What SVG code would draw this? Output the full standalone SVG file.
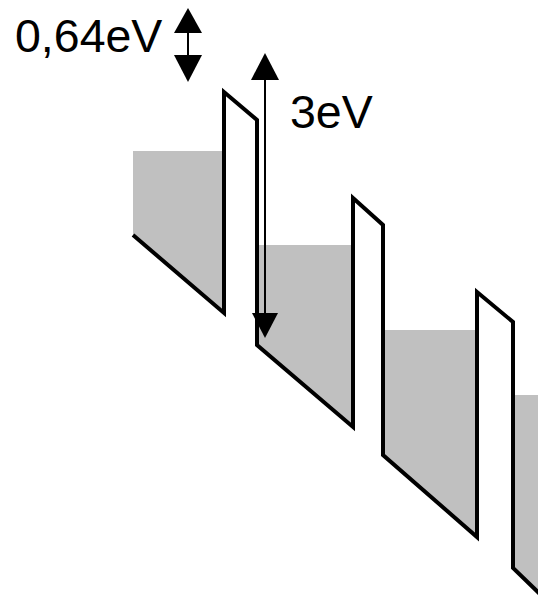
<svg xmlns="http://www.w3.org/2000/svg" width="538" height="597" viewBox="0 0 538 597">
<style>
.well{fill:#c0c0c0;stroke:none}
.profile{fill:none;stroke:#000;stroke-width:4;stroke-linejoin:miter}
.arr{stroke:#000;stroke-width:2;fill:none}
.head{fill:#000}
.lbl{font-family:"Liberation Sans",Arial,sans-serif;font-size:46.5px;fill:#000}
</style>
<rect width="538" height="597" fill="#fff"/>
<g id="well1"><polygon class="well" points="133,151 224,151 224,313 133,235"/></g>
<g id="well2"><polygon class="well" points="257,245 353,245 353,427 257,345"/></g>
<g id="well3"><polygon class="well" points="383,330 477,330 477,537 383,455"/></g>
<g id="well4"><polygon class="well" points="513,395 538,395 538,592 513,568"/></g>
<g id="profile"><polyline class="profile" points="133,235 224,313 224,92 257,120 257,345 353,427 353,198 383,225 383,455 477,537 477,292 513,322 513,568 541,595"/></g>
<g id="connectors">
<line class="arr" x1="188" y1="30" x2="188" y2="58"/>
<polygon class="head" points="188,8 202,33 174,33"/>
<polygon class="head" points="174,55 202,55 188,82"/>
<line class="arr" x1="265" y1="75" x2="265" y2="318"/>
<polygon class="head" points="265,53 279,80 251,80"/>
<polygon class="head" points="252,313 278,313 265,338"/>
</g>
<g id="label-064"><text class="lbl" x="15" y="52">0,64eV</text></g>
<g id="label-3"><text class="lbl" x="290" y="128">3eV</text></g>
</svg>
